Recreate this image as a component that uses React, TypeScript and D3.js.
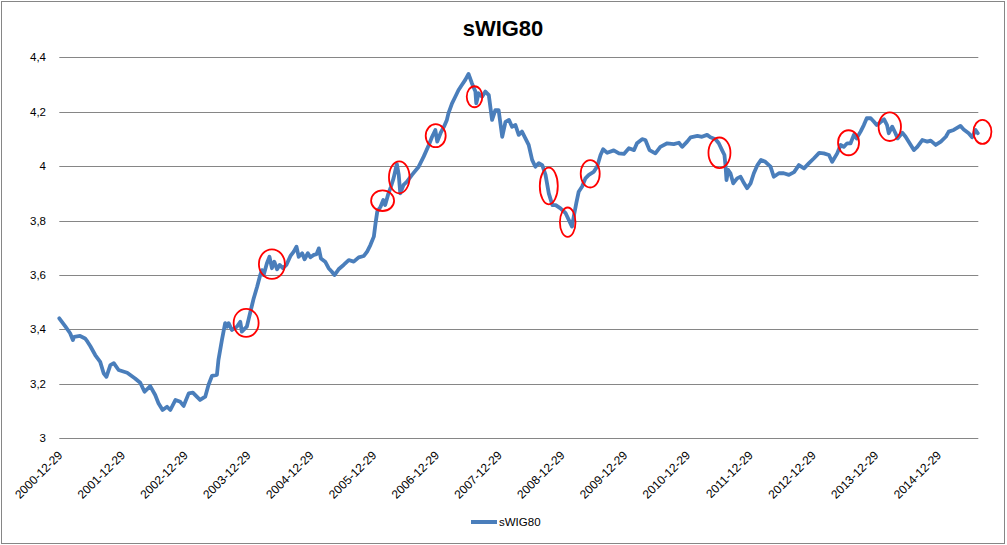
import React from "react";
import * as d3 from "d3";

// ---- data ----
const dates: string[] = [
  "2000-12-29","2001-02-03","2001-03-02","2001-03-18","2001-03-25","2001-04-29","2001-05-28","2001-06-11","2001-06-27","2001-07-26",
  "2001-08-24","2001-09-13","2001-09-29","2001-10-22","2001-11-11","2001-12-09","2002-01-28","2002-03-15","2002-04-14","2002-05-09",
  "2002-06-11","2002-07-10","2002-07-29","2002-08-22","2002-09-17","2002-10-06","2002-11-05","2002-12-03","2002-12-22","2003-01-21",
  "2003-02-14","2003-03-09","2003-03-28","2003-04-27","2003-05-16","2003-06-05","2003-07-04","2003-07-13","2003-08-02","2003-08-21",
  "2003-09-01","2003-09-10","2003-09-29","2003-10-28","2003-11-17","2003-11-26","2003-12-25","2004-01-15","2004-02-02","2004-02-23",
  "2004-03-12","2004-03-22","2004-04-01","2004-04-20","2004-05-05","2004-05-19","2004-06-02","2004-06-18","2004-07-03","2004-07-22",
  "2004-08-11","2004-09-04","2004-09-23","2004-10-09","2004-10-22","2004-11-11","2004-11-25","2004-12-14","2004-12-29","2005-01-18",
  "2005-02-03","2005-02-16","2005-02-28","2005-03-25","2005-04-14","2005-05-03","2005-05-18","2005-06-11","2005-07-10","2005-08-09",
  "2005-09-07","2005-10-06","2005-11-05","2005-11-24","2005-12-13","2006-01-02","2006-01-12","2006-01-22","2006-02-10","2006-02-26",
  "2006-03-09","2006-03-28","2006-04-12","2006-04-27","2006-05-16","2006-05-27","2006-06-05","2006-06-24","2006-07-14","2006-08-12",
  "2006-09-20","2006-10-19","2006-11-18","2006-12-07","2006-12-26","2007-01-06","2007-01-25","2007-02-14","2007-03-03","2007-03-12",
  "2007-04-02","2007-04-21","2007-05-10","2007-05-29","2007-06-18","2007-07-07","2007-07-27","2007-08-16","2007-08-21","2007-09-04",
  "2007-09-24","2007-10-13","2007-11-02","2007-11-21","2007-12-10","2007-12-29","2008-01-19","2008-02-07","2008-02-27","2008-03-16",
  "2008-04-05","2008-04-24","2008-05-13","2008-06-02","2008-06-21","2008-07-11","2008-07-30","2008-08-19","2008-09-08","2008-09-27",
  "2008-10-16","2008-11-06","2008-11-25","2008-12-23","2009-01-22","2009-02-21","2009-02-28","2009-03-10","2009-03-25","2009-04-08",
  "2009-04-28","2009-05-17","2009-06-06","2009-07-04","2009-07-24","2009-08-13","2009-08-28","2009-09-21","2009-10-29","2009-11-28",
  "2009-12-27","2010-01-25","2010-02-24","2010-03-13","2010-04-12","2010-05-01","2010-05-25","2010-06-28","2010-07-27","2010-09-05",
  "2010-10-13","2010-11-12","2010-12-01","2010-12-30","2011-01-19","2011-02-28","2011-03-26","2011-04-25","2011-05-14","2011-06-13",
  "2011-07-02","2011-07-21","2011-08-04","2011-08-10","2011-08-16","2011-08-26","2011-09-08","2011-09-24","2011-10-17","2011-11-06",
  "2011-11-21","2011-12-14","2012-01-03","2012-01-22","2012-02-12","2012-03-04","2012-03-29","2012-04-28","2012-05-17","2012-06-16",
  "2012-07-14","2012-08-13","2012-09-12","2012-10-10","2012-11-09","2012-12-08","2013-01-06","2013-02-05","2013-03-04","2013-04-03",
  "2013-04-22","2013-05-21","2013-06-10","2013-06-28","2013-07-18","2013-08-07","2013-08-26","2013-09-11","2013-10-04","2013-10-23",
  "2013-11-09","2013-12-02","2013-12-21","2014-01-06","2014-01-25","2014-02-18","2014-03-07","2014-03-17","2014-04-06","2014-04-25",
  "2014-05-08","2014-06-04","2014-06-23","2014-07-11","2014-08-10","2014-08-30","2014-09-28","2014-10-27","2014-11-16","2014-12-15",
  "2015-01-14","2015-02-12","2015-03-01","2015-03-30","2015-05-08","2015-05-27","2015-06-25","2015-07-15","2015-08-04","2015-08-17",
];

const swig80: number[] = [
  3.441,3.410,3.386,3.361,3.373,3.376,3.367,3.355,3.339,3.306,
  3.281,3.239,3.226,3.269,3.276,3.251,3.241,3.220,3.204,3.171,
  3.192,3.159,3.129,3.104,3.116,3.104,3.141,3.134,3.119,3.165,
  3.168,3.153,3.141,3.153,3.196,3.229,3.233,3.288,3.361,3.423,
  3.410,3.423,3.398,3.410,3.428,3.392,3.410,3.465,3.512,3.557,
  3.600,3.618,3.600,3.643,3.667,3.625,3.649,3.621,3.637,3.625,
  3.637,3.670,3.686,3.704,3.667,3.680,3.658,3.680,3.665,3.674,
  3.677,3.698,3.661,3.649,3.625,3.612,3.600,3.621,3.637,3.655,
  3.649,3.665,3.670,3.686,3.710,3.741,3.790,3.833,3.851,3.876,
  3.857,3.900,3.925,3.956,4.008,3.968,3.900,3.931,3.943,3.968,
  3.998,4.035,4.078,4.108,4.133,4.090,4.121,4.145,4.170,4.194,
  4.231,4.255,4.280,4.298,4.317,4.339,4.304,4.274,4.231,4.268,
  4.255,4.274,4.261,4.170,4.206,4.206,4.108,4.163,4.170,4.145,
  4.151,4.115,4.127,4.102,4.078,4.023,3.998,4.011,4.004,3.968,
  3.900,3.857,3.857,3.845,3.827,3.787,3.778,3.814,3.864,3.906,
  3.925,3.955,3.968,3.979,3.998,4.041,4.062,4.049,4.058,4.047,
  4.045,4.066,4.059,4.084,4.099,4.096,4.059,4.047,4.071,4.084,
  4.081,4.086,4.071,4.090,4.106,4.111,4.108,4.115,4.106,4.099,
  4.084,4.059,4.041,4.004,3.949,3.986,3.974,3.937,3.955,3.961,
  3.943,3.919,3.937,3.974,4.004,4.023,4.016,3.998,3.961,3.974,
  3.974,3.968,3.978,4.004,3.992,4.011,4.029,4.049,4.047,4.041,
  4.016,4.047,4.078,4.071,4.084,4.084,4.115,4.102,4.127,4.151,
  4.176,4.176,4.163,4.151,4.160,4.172,4.151,4.121,4.145,4.121,
  4.102,4.123,4.108,4.090,4.059,4.071,4.096,4.090,4.094,4.078,
  4.090,4.108,4.127,4.133,4.148,4.135,4.121,4.106,4.133,4.121,
];

const xTickLabels: string[] = [
  "2000-12-29","2001-12-29","2002-12-29","2003-12-29","2004-12-29","2005-12-29","2006-12-29","2007-12-29",
  "2008-12-29","2009-12-29","2010-12-29","2011-12-29","2012-12-29","2013-12-29","2014-12-29",
];
const yTicks: number[] = [3, 3.2, 3.4, 3.6, 3.8, 4, 4.2, 4.4];

// red hand-drawn annotation ellipses (centres in data space)
const noteDates: string[] = [
  "2003-12-21","2004-05-19","2006-02-22","2006-05-30","2006-12-28","2007-08-11","2008-10-16",
  "2009-02-03","2009-06-14","2011-07-06","2013-07-26","2014-03-23","2015-09-13",
];
const noteValues: number[] = [3.424,3.640,3.873,3.959,4.112,4.255,3.927,3.794,3.972,4.049,4.086,4.145,4.126];

const seriesName = "sWIG80";
const title = "sWIG80";

// ---- styling (not data) ----
const noteRx = [12.5,13,11.5,10.3,10,7.8,9,7.8,9.5,11,10.5,11.2,9];
const noteRy = [14,14.8,10.3,16,11.5,10.5,18.3,14.7,13.7,15.3,12.5,14.3,12];

const W = 1007, H = 545;
const plot = { left: 59.3, right: 978.3, top: 57.3, bottom: 438.3 };
const lineColor = "#4a7ebb";
const gridColor = "#868686";
const font = "'Liberation Sans', Arial, sans-serif";

export default function App() {
  const parse = d3.timeParse("%Y-%m-%d");
  const x = d3.scaleTime()
    .domain([parse("2000-12-29") as Date, parse("2015-08-20") as Date])
    .range([plot.left, plot.right]);
  const y = d3.scaleLinear().domain([3, 4.4]).range([plot.bottom, plot.top]);

  const pts = dates.map((d, i) => ({ d: parse(d) as Date, v: swig80[i] }));
  const line = d3.line<{ d: Date; v: number }>()
    .x((p) => x(p.d))
    .y((p) => y(p.v));

  const fmtY = (v: number) => String(Math.round(v * 10) / 10).replace(".", ",");

  return (
    <svg
      width={W}
      height={H}
      style={{ position: "absolute", left: 0, top: 0, background: "#fff" }}
      fontFamily={font}
    >
      <rect x={1.5} y={1.5} width={1003} height={542} fill="#fff" stroke={gridColor} strokeWidth={1} />
      <text x={503} y={36} textAnchor="middle" fontSize={22} fontWeight="bold" fill="#000">
        {title}
      </text>

      {yTicks.map((t) => (
        <g key={t}>
          <line x1={plot.left} x2={plot.right} y1={Math.round(y(t)) + 0.5} y2={Math.round(y(t)) + 0.5}
            stroke={gridColor} strokeWidth={1} />
          <text x={46} y={y(t) + 4} textAnchor="end" fontSize={11.5} fill="#000">
            {fmtY(t)}
          </text>
        </g>
      ))}

      {xTickLabels.map((lab) => {
        const px = x(parse(lab) as Date);
        return (
          <text key={lab} transform={`translate(${px + 4},${456}) rotate(-45)`} textAnchor="end"
            fontSize={12} fill="#000">
            {lab}
          </text>
        );
      })}

      <path d={line(pts) || ""} fill="none" stroke={lineColor} strokeWidth={3.8}
        strokeLinejoin="round" strokeLinecap="round" />

      {noteDates.map((nd, i) => (
        <ellipse key={nd} cx={x(parse(nd) as Date)} cy={y(noteValues[i])} rx={noteRx[i]} ry={noteRy[i]}
          fill="none" stroke="#ff0000" strokeWidth={1.8} />
      ))}

      <line x1={471} x2={497} y1={522} y2={522} stroke={lineColor} strokeWidth={4} />
      <text x={499} y={526} fontSize={11.5} fill="#000">{seriesName}</text>
    </svg>
  );
}
